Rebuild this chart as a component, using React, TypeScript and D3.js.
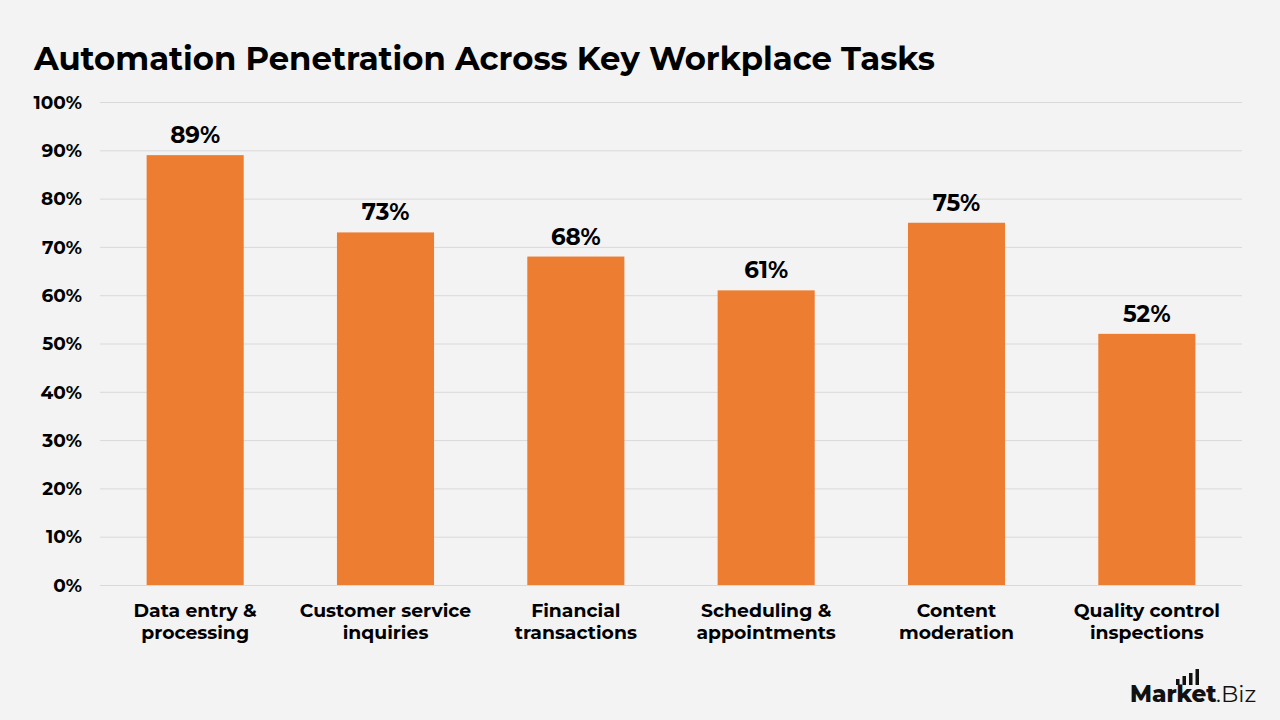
import { useEffect, useRef } from 'react'
import * as d3 from 'd3'

const CATEGORIES = [
  ['Data entry &', 'processing'],
  ['Customer service', 'inquiries'],
  ['Financial', 'transactions'],
  ['Scheduling &', 'appointments'],
  ['Content', 'moderation'],
  ['Quality control', 'inspections'],
]
const VALUES = [89, 73, 68, 61, 75, 52]
const Y_TICKS = [0, 10, 20, 30, 40, 50, 60, 70, 80, 90, 100]

const W = 1280
const H = 720
const FONT = 'Montserrat, "Open Sans", Lato, sans-serif'

export default function App() {
  const svgRef = useRef<SVGSVGElement>(null)

  useEffect(() => {
    document.body.style.margin = '0'
    const svg = d3.select(svgRef.current)
    svg.selectAll('*').remove()

    const margin = { top: 102, right: 38, bottom: 135, left: 100 }
    const iw = W - margin.left - margin.right
    const ih = H - margin.top - margin.bottom

    svg.append('rect').attr('width', W).attr('height', H).attr('fill', '#f3f3f3')

    svg.append('text')
      .attr('x', 34).attr('y', 70)
      .attr('font-family', FONT).attr('font-weight', 700).attr('font-size', 32.3)
      .attr('fill', '#000')
      .text('Automation Penetration Across Key Workplace Tasks')

    const g = svg.append('g').attr('transform', `translate(${margin.left},${margin.top})`)

    const idx = d3.range(CATEGORIES.length)
    const x = d3.scaleBand<number>().domain(idx).range([0, iw]).paddingInner(0.49).paddingOuter(0.245)
    const y = d3.scaleLinear().domain([0, 100]).range([ih, 0])

    // grid + y labels
    g.append('g')
      .call(d3.axisLeft(y).tickValues(Y_TICKS).tickSize(-iw).tickFormat(v => `${v}%`))
      .call(gg => {
        gg.select('.domain').remove()
        gg.selectAll('.tick line').attr('stroke', '#d9d9d9').attr('stroke-width', 1)
        gg.selectAll('.tick text')
          .attr('fill', '#000').attr('font-size', 18.5).attr('font-weight', 700)
          .attr('font-family', FONT).attr('x', -18).attr('dy', '0.34em')
      })

    g.selectAll('.bar')
      .data(VALUES)
      .join('rect')
      .attr('class', 'bar')
      .attr('x', (_, i) => x(i)!)
      .attr('y', d => y(d))
      .attr('width', x.bandwidth())
      .attr('height', d => ih - y(d))
      .attr('fill', '#ed7d31')

    g.selectAll('.val')
      .data(VALUES)
      .join('text')
      .attr('class', 'val')
      .attr('x', (_, i) => x(i)! + x.bandwidth() / 2)
      .attr('y', d => y(d) - 12)
      .attr('text-anchor', 'middle')
      .attr('font-family', FONT).attr('font-weight', 700).attr('font-size', 23)
      .attr('fill', '#000')
      .text(d => `${d}%`)

    // x labels
    const xl = g.selectAll('.xl')
      .data(CATEGORIES)
      .join('text')
      .attr('class', 'xl')
      .attr('x', (_, i) => x(i)! + x.bandwidth() / 2)
      .attr('y', ih + 32)
      .attr('text-anchor', 'middle')
      .attr('font-family', FONT).attr('font-weight', 700).attr('font-size', 18.8)
      .attr('fill', '#000')
    xl.selectAll('tspan')
      .data(d => d)
      .join('tspan')
      .attr('x', function () { return (this.parentNode as SVGTextElement).getAttribute('x') })
      .attr('dy', (_, i) => (i === 0 ? 0 : 22))
      .text(d => d)

    // logo
    const logo = svg.append('g').attr('transform', 'translate(1130,702)')
    logo.append('text')
      .attr('x', 0).attr('y', 0)
      .attr('font-family', FONT).attr('font-weight', 800).attr('font-size', 23)
      .attr('fill', '#111')
      .text('Market')
    logo.append('text')
      .attr('x', 86).attr('y', 0)
      .attr('font-family', FONT).attr('font-weight', 400).attr('font-size', 23)
      .attr('fill', '#111')
      .text('.Biz')
    const logoBars = [6, 9, 12, 16]
    logo.selectAll('.lb')
      .data(logoBars)
      .join('rect')
      .attr('class', 'lb')
      .attr('x', (_, i) => 46 + i * 6.5)
      .attr('y', d => -17 - d)
      .attr('width', 3.5)
      .attr('height', d => d)
      .attr('fill', '#111')
  }, [])

  return (
    <div style={{ width: W, height: H }}>
      <svg ref={svgRef} width={W} height={H} style={{ display: 'block' }} />
    </div>
  )
}
